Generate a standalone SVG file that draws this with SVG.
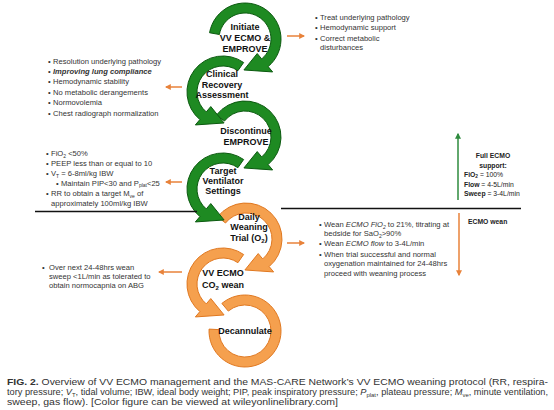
<svg xmlns="http://www.w3.org/2000/svg" width="554" height="410" viewBox="0 0 554 410">
<defs>
<marker id="ah-o" viewBox="0 0 10 10" refX="8" refY="5" markerWidth="4" markerHeight="4" orient="auto"><path d="M0,0 L10,5 L0,10 z" fill="#e8823a"/></marker>
<marker id="ah-g" viewBox="0 0 10 10" refX="8" refY="5" markerWidth="4" markerHeight="4" orient="auto"><path d="M0,0 L10,5 L0,10 z" fill="#2e8b3e"/></marker>
</defs>
<style>
.g{fill:#1e8a22;stroke:#0c5a10;stroke-width:1}
.o{fill:#f5a04e;stroke:#e07820;stroke-width:1}
.lbl{font-family:"Liberation Sans",Arial,sans-serif;font-weight:bold;font-size:9px;fill:#111;text-anchor:middle}
.b{font-family:"Liberation Sans",Arial,sans-serif;font-size:7.6px;fill:#333}
.side{font-family:"Liberation Sans",Arial,sans-serif;font-size:6.8px;fill:#222}
.cap{font-family:"Liberation Sans",Arial,sans-serif;font-size:9px;fill:#333}
.oa{stroke:#e8823a;stroke-width:1.5;fill:none;marker-end:url(#ah-o)}
.ga{stroke:#2e8b3e;stroke-width:1.5;fill:none;marker-end:url(#ah-g)}
.hl{stroke:#111;stroke-width:1.5}
</style>
<rect width="554" height="410" fill="#fff"/>

<g id="node-decannulate">
<path class="o" d="M221.86,303.42 A36,36 0 1 1 209.05,329.12 L219.04,329.64 A26,26 0 1 0 228.29,311.08 Z"/>
<text class="lbl" x="245" y="334">Decannulate</text>
</g>
<g id="node-co2-wean">
<path class="o" d="M243.65,254.51 A36,36 0 0 0 199.86,311.58 L195.36,316.94 L224.08,314.98 L210.79,298.55 L206.29,303.92 A26,26 0 0 1 237.91,262.70 Z"/>
<text class="lbl" x="223" y="276">VV ECMO</text>
<text class="lbl" x="223" y="288">CO<tspan font-size="6" dy="1.5">2</tspan><tspan dy="-1.5"> wean</tspan></text>
</g>
<g id="node-daily-weaning">
<path class="o" d="M217.63,216.83 A36,36 0 1 1 269.14,266.58 L273.64,271.94 L244.92,269.98 L258.21,253.55 L262.71,258.92 A26,26 0 1 0 225.51,222.99 Z"/>
<text class="lbl" x="249" y="220">Daily</text>
<text class="lbl" x="249" y="230">Weaning</text>
<text class="lbl" x="249" y="241">Trial (O<tspan font-size="6" dy="1.5">2</tspan><tspan dy="-1.5">)</tspan></text>
</g>
<g id="node-target-ventilator">
<path class="g" d="M243.65,159.51 A36,36 0 0 0 199.86,216.58 L195.36,221.94 L224.08,219.98 L210.79,203.55 L206.29,208.92 A26,26 0 0 1 237.91,167.70 Z"/>
<text class="lbl" x="223" y="174">Target</text>
<text class="lbl" x="223" y="184">Ventilator</text>
<text class="lbl" x="223" y="194">Settings</text>
</g>
<g id="node-discontinue">
<path class="g" d="M216.63,114.83 A36,36 0 1 1 268.14,164.58 L272.64,169.94 L243.92,167.98 L257.21,151.55 L261.71,156.92 A26,26 0 1 0 224.51,120.99 Z"/>
<text class="lbl" x="246" y="134">Discontinue</text>
<text class="lbl" x="246" y="145">EMPROVE</text>
</g>
<g id="node-clinical-recovery">
<path class="g" d="M243.65,62.51 A36,36 0 0 0 199.86,119.58 L195.36,124.94 L224.08,122.98 L210.79,106.55 L206.29,111.92 A26,26 0 0 1 237.91,70.70 Z"/>
<text class="lbl" x="222" y="77">Clinical</text>
<text class="lbl" x="222" y="88">Recovery</text>
<text class="lbl" x="222" y="98">Assessment</text>
</g>
<g id="node-initiate">
<path class="g" d="M209.55,32.75 A36,36 0 1 1 268.14,66.58 L272.64,71.94 L243.92,69.98 L257.21,53.55 L261.71,58.92 A26,26 0 1 0 219.40,34.49 Z"/>
<text class="lbl" x="245" y="30">Initiate</text>
<text class="lbl" x="245" y="41">VV ECMO &amp;</text>
<text class="lbl" x="245" y="52">EMPROVE</text>
</g>

<g id="connectors">
<line class="oa" x1="287" y1="36" x2="304" y2="36"/>
<line class="oa" x1="182" y1="87" x2="166" y2="87"/>
<line class="oa" x1="182" y1="182" x2="166" y2="182"/>
<line class="oa" x1="287" y1="243" x2="304" y2="243"/>
<line class="oa" x1="182" y1="272" x2="159" y2="272"/>
<line class="ga" x1="458" y1="200" x2="458" y2="134"/>
<line class="oa" x1="459" y1="213" x2="459" y2="275"/>
<line class="hl" x1="35" y1="211.5" x2="197" y2="211.5"/>
<line class="hl" x1="281" y1="208.5" x2="521" y2="208.5"/>
</g>

<g id="notes-initiate" class="b">
<text x="315" y="20">• <tspan x="320">Treat underlying pathology</tspan></text>
<text x="315" y="30">• <tspan x="320">Hemodynamic support</tspan></text>
<text x="315" y="41">• <tspan x="320">Correct metabolic</tspan></text>
<text x="320" y="50">disturbances</text>
</g>

<g id="notes-recovery" class="b">
<text x="48" y="64">• <tspan x="53">Resolution underlying pathology</tspan></text>
<text x="48" y="74">• <tspan x="53" font-weight="bold" font-style="italic">Improving lung compliance</tspan></text>
<text x="48" y="84">• <tspan x="53">Hemodynamic stability</tspan></text>
<text x="48" y="94.5">• <tspan x="53">No metabolic derangements</tspan></text>
<text x="48" y="105">• <tspan x="53">Normovolemia</tspan></text>
<text x="48" y="115.5">• <tspan x="53">Chest radiograph normalization</tspan></text>
</g>

<g id="notes-ventilator" class="b">
<text x="46" y="156">• <tspan x="51">FiO<tspan font-size="5" dy="1.5">2</tspan><tspan dy="-1.5"> &lt;50%</tspan></tspan></text>
<text x="46" y="166">• <tspan x="51">PEEP less than or equal to 10</tspan></text>
<text x="46" y="176">• <tspan x="51">V<tspan font-size="5" dy="1.5">T</tspan><tspan dy="-1.5"> = 6-8ml/kg IBW</tspan></tspan></text>
<text x="56" y="185.5">• <tspan x="61">Maintain PIP&lt;30 and P<tspan font-size="5" dy="1.5">plat</tspan><tspan dy="-1.5">&lt;25</tspan></tspan></text>
<text x="46" y="196">• <tspan x="51">RR to obtain a target M<tspan font-size="5" dy="1.5">ve</tspan><tspan dy="-1.5"> of</tspan></tspan></text>
<text x="51" y="206">approximately 100ml/kg IBW</text>
</g>

<g id="notes-full-support" class="side">
<text x="493" y="158" font-weight="bold" text-anchor="middle">Full ECMO</text>
<text x="493" y="168" font-weight="bold" text-anchor="middle">support:</text>
<text x="464" y="177"><tspan font-weight="bold">FiO<tspan font-size="4.8" dy="1.3">2</tspan></tspan><tspan dy="-1.3"> = 100%</tspan></text>
<text x="464" y="186.5"><tspan font-weight="bold">Flow</tspan> = 4-5L/min</text>
<text x="464" y="196"><tspan font-weight="bold">Sweep</tspan> = 3-4L/min</text>
</g>

<g id="notes-ecmo-wean" class="side">
<text x="468" y="223.5" font-weight="bold">ECMO wean</text>
</g>

<g id="notes-daily-trial" class="b">
<text x="319" y="227">• <tspan x="324">Wean <tspan font-style="italic">ECMO FiO<tspan font-size="5" dy="1.5">2</tspan></tspan><tspan dy="-1.5"> to 21%, titrating at</tspan></tspan></text>
<text x="324" y="236">bedside for SaO<tspan font-size="5" dy="1.5">2</tspan><tspan dy="-1.5">&gt;90%</tspan></text>
<text x="319" y="246">• <tspan x="324">Wean <tspan font-style="italic">ECMO flow</tspan> to 3-4L/min</tspan></text>
<text x="319" y="257">• <tspan x="324">When trial successful and normal</tspan></text>
<text x="324" y="266">oxygenation maintained for 24-48hrs</text>
<text x="324" y="276">proceed with weaning process</text>
</g>

<g id="notes-co2-wean" class="b">
<text x="42" y="270">• <tspan x="49">Over next 24-48hrs wean</tspan></text>
<text x="49" y="279">sweep &lt;1L/min as tolerated to</text>
<text x="49" y="288">obtain normocapnia on ABG</text>
</g>

<g id="caption" class="cap">
<text x="7" y="385" textLength="541" lengthAdjust="spacingAndGlyphs"><tspan font-weight="bold">FIG. 2.</tspan> Overview of VV ECMO management and the MAS-CARE Network’s VV ECMO weaning protocol (RR, respira-</text>
<text x="7" y="395" textLength="541" lengthAdjust="spacingAndGlyphs">tory pressure; <tspan font-style="italic">V</tspan><tspan font-size="5.8" dy="1.5">T</tspan><tspan dy="-1.5">, tidal volume; IBW, ideal body weight; PIP, peak inspiratory pressure; </tspan><tspan font-style="italic">P</tspan><tspan font-size="5.8" dy="1.5">plat</tspan><tspan dy="-1.5">, plateau pressure; </tspan><tspan font-style="italic">M</tspan><tspan font-size="5.8" dy="1.5">ve</tspan><tspan dy="-1.5">, minute ventilation,</tspan></text>
<text x="7" y="405" textLength="331" lengthAdjust="spacingAndGlyphs">sweep, gas flow). [Color figure can be viewed at wileyonlinelibrary.com]</text>
</g>
</svg>
